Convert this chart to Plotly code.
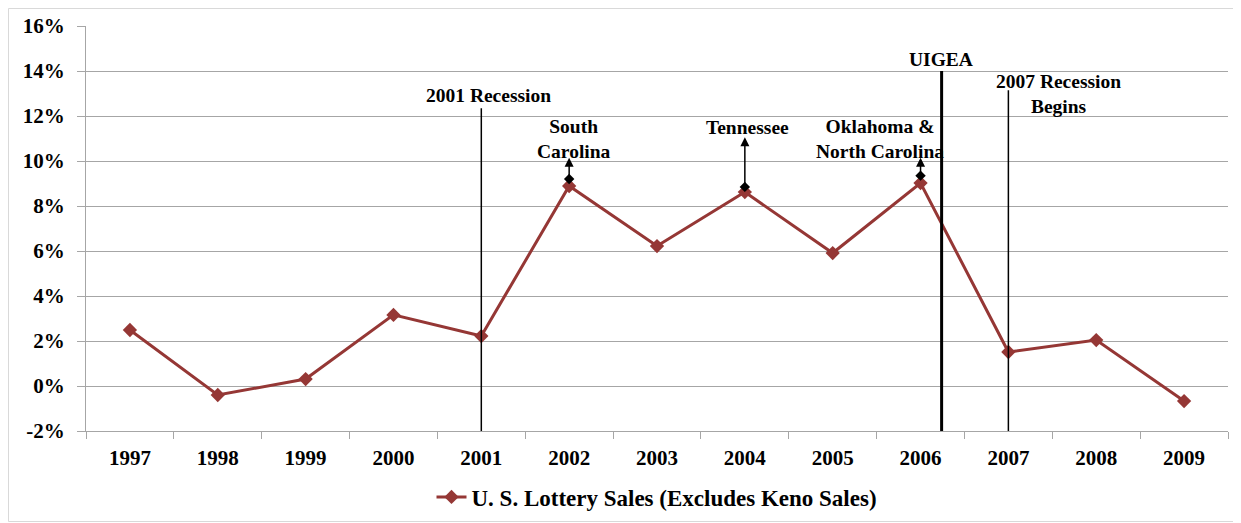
import plotly.graph_objects as go

years = [1997, 1998, 1999, 2000, 2001, 2002, 2003, 2004, 2005, 2006, 2007, 2008, 2009]
sales_growth = [2.49, -0.40, 0.31, 3.16, 2.22, 8.89, 6.22, 8.62, 5.91, 9.02, 1.51, 2.04, -0.67]

event_labels = ["2001 Recession", "UIGEA", "2007 Recession<br>Begins"]
event_x = [2001.0, 2006.24, 2007.0]
event_top = [12.35, 14.0, 13.15]
event_width = [1.5, 3, 1.5]
event_label_x = [2001.08, 2006.23, 2007.57]
event_label_y = [12.93, 14.53, 12.96]

state_labels = ["South<br>Carolina", "Tennessee", "Oklahoma &<br>North Carolina"]
state_x = [2002, 2004, 2006]
state_base = [9.2, 8.85, 9.35]
state_tip = [10.15, 11.05, 10.15]
state_label_x = [2002.06, 2004.03, 2005.54]
state_label_y = [10.96, 11.51, 11.0]

FONT = "Liberation Serif"
RED = "#953735"
GRID = "#a6a6a6"

# The page body adds an 8px offset; plot area should land at x 86..1228, y 26..431.
W, H = 1233, 515
ML, MR, MT, MB = 78, 13, 18, 92
PW, PH = W - ML - MR, H - MT - MB

fig = go.Figure()
fig.add_trace(go.Scatter(
    x=years, y=sales_growth, mode="lines+markers",
    name="<b>U. S. Lottery Sales (Excludes Keno Sales)</b>",
    line=dict(color=RED, width=3),
    marker=dict(symbol="diamond", size=11, color=RED),
))
fig.add_trace(go.Scatter(
    x=state_x, y=state_base, mode="markers", showlegend=False,
    marker=dict(symbol="diamond", size=8, color="black"), hoverinfo="skip",
))

for lab, x, top, w, lx, ly in zip(event_labels, event_x, event_top, event_width, event_label_x, event_label_y):
    fig.add_shape(type="line", x0=x, x1=x, y0=-2, y1=top, xref="x", yref="y",
                  line=dict(color="black", width=w))
    fig.add_annotation(x=lx, y=ly, text="<b>" + lab + "</b>", showarrow=False,
                       xref="x", yref="y", yanchor="middle",
                       font=dict(family=FONT, size=19.5, color="black"))

for lab, x, b, t, lx, ly in zip(state_labels, state_x, state_base, state_tip, state_label_x, state_label_y):
    fig.add_annotation(x=x, y=t, ax=x, ay=b, xref="x", yref="y", axref="x", ayref="y",
                       text="", showarrow=True, arrowhead=2, arrowsize=1.2, arrowwidth=1.5,
                       arrowcolor="black", standoff=0, startstandoff=0)
    fig.add_annotation(x=lx, y=ly, text="<b>" + lab + "</b>", showarrow=False,
                       xref="x", yref="y", yanchor="middle",
                       font=dict(family=FONT, size=19.5, color="black"))

# outer chart border
fig.add_shape(type="rect", xref="paper", yref="paper",
              x0=-(ML - 0.5) / PW, x1=1 + (MR - 1.5) / PW,
              y0=-(MB - 1.5) / PH, y1=1 + (MT - 0.5) / PH,
              line=dict(color="#d9d9d9", width=1), fillcolor="rgba(0,0,0,0)", layer="below")

fig.update_layout(
    width=W, height=H,
    margin=dict(l=ML, r=MR, t=MT, b=MB, autoexpand=False),
    plot_bgcolor="white", paper_bgcolor="white",
    font=dict(family=FONT, size=17, color="black"),
    showlegend=True,
    legend=dict(orientation="h", x=0.5, xanchor="center", y=-66 / PH, yanchor="middle",
                font=dict(family=FONT, size=23, color="black")),
    xaxis=dict(
        range=[1996.5, 2009.5], tickvals=years, ticktext=["<b>%d</b>" % y for y in years],
        showgrid=False, ticks="", showline=True, linecolor=GRID, linewidth=1,
        tickfont=dict(family=FONT, size=21, color="black"),
        minor=dict(tickvals=[y - 0.5 for y in years] + [2009.5], ticks="outside",
                   ticklen=7, tickcolor=GRID, showgrid=False),
        zeroline=False, automargin=False, ticklabelstandoff=8,
    ),
    yaxis=dict(
        range=[-2, 16], tickvals=list(range(-2, 17, 2)),
        ticktext=["<b>%d%%</b>" % v for v in range(-2, 17, 2)],
        showgrid=True, gridcolor=GRID, gridwidth=1,
        ticks="outside", ticklen=8, tickcolor=GRID,
        showline=True, linecolor=GRID, zeroline=False,
        tickfont=dict(family=FONT, size=21, color="black"),
        ticklabelstandoff=8, automargin=False,
    ),
)

fig.write_html("out.html")
